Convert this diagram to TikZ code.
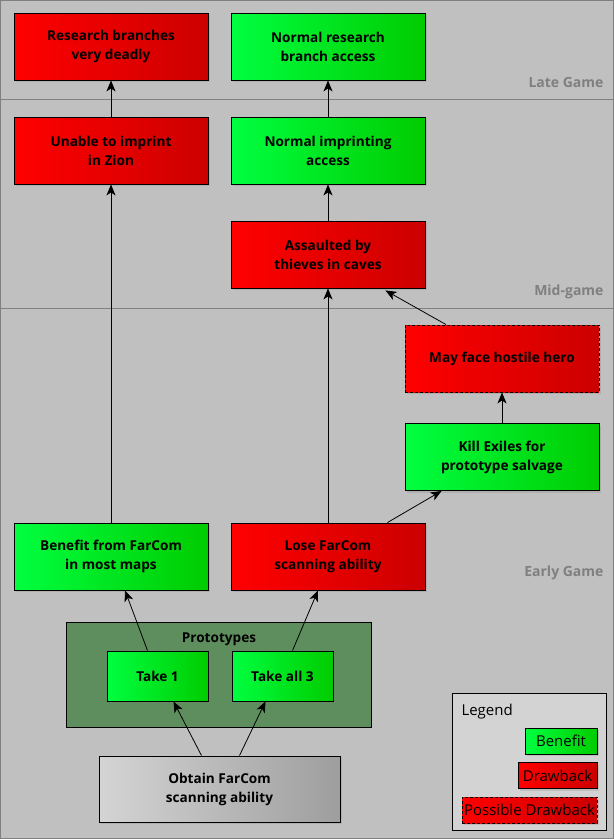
\documentclass[tikz,border=0pt]{standalone}
\usepackage{fontspec}
\setmainfont{Open Sans}
\usetikzlibrary{arrows.meta,shadows,calc}
\definecolor{bg}{HTML}{C0C0C0}
\definecolor{band}{HTML}{808080}
\definecolor{redA}{HTML}{FF0000}
\definecolor{redB}{HTML}{CC0000}
\definecolor{grnA}{HTML}{00FF40}
\definecolor{grnB}{HTML}{00CC00}
\definecolor{gryA}{HTML}{D4D4D4}
\definecolor{gryB}{HTML}{9E9E9E}
\definecolor{grp}{HTML}{5E8E5E}
\definecolor{leg}{HTML}{D3D3D3}
\tikzset{
  base/.style={draw=black, line width=0.9pt, inner sep=0pt, align=center,
    font=\fontsize{13.6}{19}\selectfont\bfseries,
    drop shadow={opacity=0.25, shadow xshift=2pt, shadow yshift=-2pt}},
  wide/.style={minimum width=194pt, minimum height=67pt},
  small/.style={minimum width=101pt, minimum height=50pt},
  bad/.style={base, left color=redA, right color=redB},
  good/.style={base, left color=grnA, right color=grnB},
  neutral/.style={base, left color=gryA, right color=gryB},
  maybe/.style={bad, dashed, dash pattern=on 3pt off 2pt},
  arr/.style={-{Stealth[length=11pt,width=9pt,inset=3pt]}, line width=0.8pt, black},
  bandlbl/.style={text=band, font=\fontsize{14}{16}\selectfont\bfseries, anchor=east},
  legbox/.style={draw=black, line width=0.8pt, inner sep=0pt, font=\fontsize{15}{17}\selectfont,
    drop shadow={opacity=0.25, shadow xshift=2pt, shadow yshift=-2pt}, minimum height=26pt}
}
\begin{document}
\begin{tikzpicture}[x=1pt,y=-1pt]
% background
\fill[bg] (0,0) rectangle (614,839);
\useasboundingbox (0,0) rectangle (614,839);
\draw[band, line width=1pt] (0.5,0.5) rectangle (613.5,838.5);
\draw[band, line width=1pt] (0,99) -- (614,99);
\draw[band, line width=1pt] (0,308) -- (614,308);
\node[bandlbl] (lg) at (607,82) {Late Game};
\node[bandlbl] (mg) at (607,292) {Mid-game};
\node[bandlbl] (eg) at (607,573) {Early Game};

% group
\node[draw=black, fill=grp, line width=0.8pt, minimum width=305pt, minimum height=105pt, inner sep=0pt] (grpbox) at (218.5,674.5) {};
\node[font=\fontsize{13.6}{16}\selectfont\bfseries] (grptitle) at (219,639) {Prototypes};

% nodes
\node[bad,wide] (rbd) at (111,46.5) {Research branches\\very deadly};
\node[good,wide] (nrb) at (328,46.5) {Normal research\\branch access};
\node[bad,wide] (uiz) at (111,150.5) {Unable to imprint\\in Zion};
\node[good,wide] (nia) at (328,150.5) {Normal imprinting\\access};
\node[bad,wide] (atc) at (328,254.5) {Assaulted by\\thieves in caves};
\node[maybe,wide] (mfh) at (502,358.5) {May face hostile hero};
\node[good,wide] (kex) at (502,457) {Kill Exiles for\\prototype salvage};
\node[good,wide] (bfc) at (111,556.5) {Benefit from FarCom\\in most maps};
\node[bad,wide] (lfc) at (328,556.5) {Lose FarCom\\scanning ability};
\node[good,small] (t1) at (157.5,676) {Take 1};
\node[good,small] (t3) at (282.5,676) {Take all 3};
\node[neutral,minimum width=241pt,minimum height=66pt] (ofc) at (219.5,789) {Obtain FarCom\\scanning ability};

% legend
\node[draw=black, fill=leg, line width=0.8pt, minimum width=154pt, minimum height=137pt, inner sep=0pt] (legend) at (529,761.5) {};
\node[anchor=west, font=\fontsize{15}{17}\selectfont] (legt) at (458,712) {Legend};
\node[legbox, left color=grnA, right color=grnB, minimum width=72pt] (lb) at (561,741) {Benefit};
\node[legbox, left color=redA, right color=redB, minimum width=79pt] (ld) at (557.5,775.5) {Drawback};
\node[legbox, left color=redA, right color=redB, dashed, dash pattern=on 3pt off 2pt, minimum width=135pt] (lp) at (529.5,810) {Possible Drawback};

% connectors
\draw[arr] (uiz) -- (rbd);
\draw[arr] (nia) -- (nrb);
\draw[arr] (atc) -- (nia);
\draw[arr] (bfc) -- (uiz);
\draw[arr] (lfc) -- (atc);
\draw[arr] (kex) -- (mfh);
\draw[arr] ($(mfh.north)+(-56,0)$) -- ($(atc.south east)+(-40,2)$);
\draw[arr] ($(lfc.north east)+(-38,0)$) -- ($(kex.south west)+(37,0)$);
\draw[arr] ($(t1.north)+(-10,0)$) -- ($(bfc.south)+(14,0)$);
\draw[arr] ($(t3.north)+(10,0)$) -- ($(lfc.south)+(-10,0)$);
\draw[arr] ($(ofc.north)+(-18,0)$) -- ($(t1.south)+(16,0)$);
\draw[arr] ($(ofc.north)+(20,0)$) -- ($(t3.south)+(-17,0)$);
\end{tikzpicture}
\end{document}
